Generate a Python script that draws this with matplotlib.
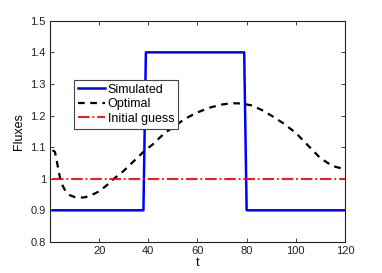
import numpy as np
import matplotlib
matplotlib.use('Agg')
import matplotlib.pyplot as plt

plt.rcParams['font.family'] = ['Liberation Sans', 'DejaVu Sans']

# simulated flux (step profile)
sim_t = [1, 38, 39, 79, 80, 120]
sim_v = [0.9, 0.9, 1.4, 1.4, 0.9, 0.9]

# optimal flux
opt_t = [1, 2, 3, 4, 5, 6, 8, 10, 12, 14, 16, 20, 24, 26, 30, 34, 38, 42,
         46, 50, 55, 60, 65, 70, 74, 78, 82, 86, 90, 95, 100, 105, 110, 115, 120]
opt_v = [1.09, 1.085, 1.045, 1.005, 0.98, 0.965, 0.948, 0.942, 0.94, 0.941,
         0.945, 0.96, 0.985, 1.0, 1.025, 1.055, 1.085, 1.11, 1.14, 1.163, 1.19,
         1.21, 1.225, 1.235, 1.239, 1.238, 1.232, 1.218, 1.2, 1.175, 1.145,
         1.105, 1.065, 1.04, 1.03]

# initial guess
init_t = [1, 120]
init_v = [1.0, 1.0]

fig = plt.figure(figsize=(3.82, 2.73), dpi=100)
ax = fig.add_axes([0.131, 0.114, 0.772, 0.810])

ax.plot(sim_t, sim_v, '-', color='#0000ff', linewidth=1.8, label='Simulated')
ax.plot(opt_t, opt_v, '--', color='black', linewidth=1.6, dashes=(3, 2.5), label='Optimal')
ax.plot(init_t, init_v, '-.', color='red', linewidth=1.3, label='Initial guess')

ax.set_xlim(0, 120)
ax.set_ylim(0.8, 1.5)
ax.set_xticks([20, 40, 60, 80, 100, 120])
ax.set_yticks([0.8, 0.9, 1.0, 1.1, 1.2, 1.3, 1.4, 1.5])
ax.set_yticklabels(['0.8', '0.9', '1', '1.1', '1.2', '1.3', '1.4', '1.5'])
ax.tick_params(direction='in', top=True, right=True, labelsize=8, length=3,
               width=0.6, colors='#222222', pad=3)
for s in ax.spines.values():
    s.set_linewidth(0.8)
    s.set_color('#222222')

ax.set_xlabel('t', fontsize=9, labelpad=1)
ax.set_ylabel('Fluxes', fontsize=9, labelpad=4)

leg = ax.legend(loc='upper left', bbox_to_anchor=(0.081, 0.732), borderaxespad=0,
                fontsize=9, handlelength=2.2, handletextpad=0.2, labelspacing=0.2,
                borderpad=0.3, fancybox=False, framealpha=1)
leg.get_frame().set_edgecolor('#444444')
leg.get_frame().set_linewidth(0.8)

fig.savefig('out.png', dpi=100)
